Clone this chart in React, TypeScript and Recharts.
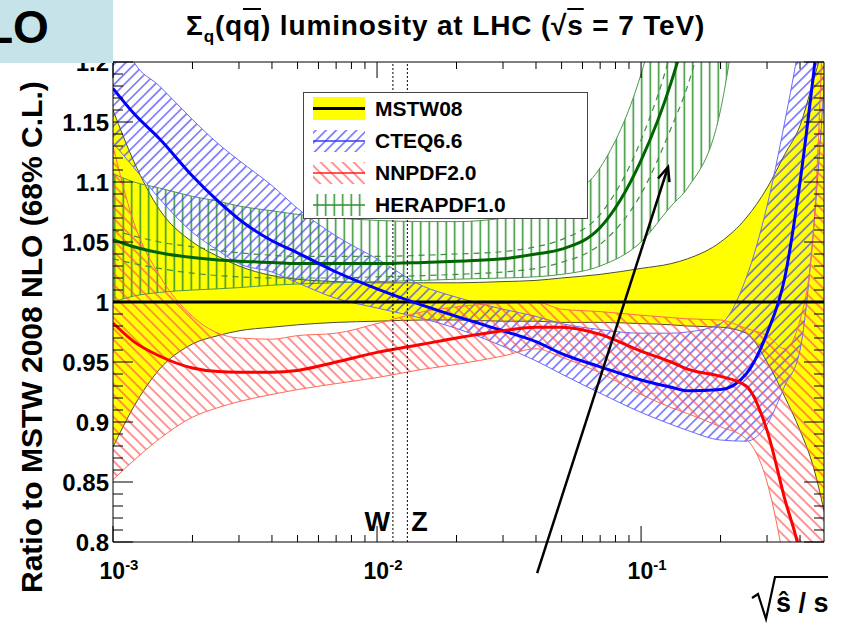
import React from "react";
import {
  ComposedChart,
  Area,
  Line,
  XAxis,
  YAxis,
  ReferenceLine,
  Legend,
} from "recharts";

const FONT = "'Liberation Sans', Arial, Helvetica, sans-serif";

// sqrt(s_hat / s) sample points
const xValues = [
  0.001, 0.0012, 0.0015, 0.002, 0.0025, 0.003, 0.004, 0.005, 0.007, 0.01,
  0.015, 0.02, 0.03, 0.04, 0.05, 0.07, 0.1, 0.13, 0.15, 0.2, 0.25, 0.3, 0.35,
  0.4, 0.45, 0.5,
];

// MSTW08 (reference, yellow band)
const mstwCentral = [
  1, 1, 1, 1, 1, 1, 1, 1, 1, 1, 1, 1, 1, 1, 1, 1, 1, 1, 1, 1, 1, 1, 1, 1, 1, 1,
];
const mstwHigh = [
  1.16, 1.117, 1.077, 1.05, 1.038, 1.03, 1.022, 1.019, 1.017, 1.016, 1.016,
  1.016, 1.017, 1.018, 1.02, 1.023, 1.028, 1.032, 1.036, 1.05, 1.07, 1.095,
  1.123, 1.147, 1.185, 1.22,
];
const mstwLow = [
  0.879, 0.913, 0.944, 0.965, 0.972, 0.976, 0.979, 0.981, 0.983, 0.984, 0.985,
  0.985, 0.984, 0.984, 0.983, 0.983, 0.982, 0.981, 0.98, 0.979, 0.974, 0.95,
  0.921, 0.893, 0.862, 0.82,
];

// CTEQ6.6
const cteqCentral = [
  1.178, 1.157, 1.136, 1.105, 1.084, 1.069, 1.051, 1.041, 1.025, 1.011, 0.997,
  0.988, 0.976, 0.967, 0.957, 0.946, 0.935, 0.929, 0.926, 0.927, 0.94, 0.974,
  1.02, 1.1, 1.19, 1.28,
];
const cteqHigh = [
  1.24, 1.2, 1.18, 1.152, 1.132, 1.118, 1.097, 1.078, 1.055, 1.036, 1.013,
  1.004, 0.994, 0.988, 0.982, 0.977, 0.974, 0.974, 0.975, 0.982, 1.02, 1.08,
  1.15, 1.22, 1.3, 1.38,
];
const cteqLow = [
  1.1325, 1.112, 1.086, 1.058, 1.043, 1.032, 1.025, 1.016, 1.003, 0.995, 0.986,
  0.978, 0.963, 0.951, 0.94, 0.924, 0.908, 0.898, 0.893, 0.885, 0.884, 0.898,
  0.93, 0.96, 1.06, 1.2,
];

// NNPDF2.0
const nnpdfCentral = [
  0.9825, 0.967, 0.955, 0.945, 0.942, 0.9415, 0.9415, 0.943, 0.95, 0.958,
  0.965, 0.97, 0.976, 0.979, 0.979, 0.973, 0.959, 0.95, 0.944, 0.938, 0.93,
  0.893, 0.836, 0.79, 0.72, 0.6,
];
const nnpdfHigh = [
  1.13, 1.066, 1.022, 0.988, 0.974, 0.97, 0.969, 0.972, 0.974, 0.982, 0.992,
  0.996, 0.999, 1.0, 0.994, 0.992, 0.989, 0.987, 0.986, 0.985, 0.978, 0.972,
  0.961, 0.985, 1.06, 1.3,
];
const nnpdfLow = [
  0.852, 0.868, 0.886, 0.904, 0.912, 0.917, 0.923, 0.927, 0.932, 0.937, 0.944,
  0.948, 0.955, 0.961, 0.954, 0.941, 0.923, 0.912, 0.907, 0.896, 0.886, 0.85,
  0.78, 0.7, 0.6, 0.5,
];

// HERAPDF1.0 (outer band, inner dashed band)
const heraCentral = [
  1.052, 1.046, 1.041, 1.037, 1.035, 1.034, 1.033, 1.032, 1.032, 1.032, 1.033,
  1.034, 1.036, 1.04, 1.044, 1.062, 1.118, 1.183, 1.23, 1.36, null, null, null,
  null, null, null,
];
const heraHigh = [
  1.107, 1.1, 1.095, 1.088, 1.084, 1.08, 1.076, 1.073, 1.07, 1.068, 1.067,
  1.067, 1.07, 1.076, 1.085, 1.112, 1.19, 1.29, 1.36, 1.5, 1.65, null, null,
  null, null, null,
];
const heraLow = [
  1.0, 1.005, 1.008, 1.01, 1.011, 1.012, 1.014, 1.015, 1.016, 1.017, 1.018,
  1.019, 1.02, 1.021, 1.023, 1.03, 1.05, 1.08, 1.095, 1.16, 1.3, null, null,
  null, null, null,
];
const heraInnerHigh = [
  1.06, 1.055, 1.05, 1.046, 1.043, 1.041, 1.039, 1.038, 1.038, 1.038, 1.039,
  1.04, 1.042, 1.046, 1.052, 1.073, 1.135, 1.21, 1.27, null, null, null, null,
  null, null, null,
];
const heraInnerLow = [
  1.036, 1.032, 1.028, 1.024, 1.022, 1.021, 1.02, 1.02, 1.02, 1.021, 1.022,
  1.023, 1.025, 1.028, 1.033, 1.048, 1.09, 1.145, 1.18, 1.29, null, null, null,
  null, null, null,
];

const seriesNames = ["MSTW08", "CTEQ6.6", "NNPDF2.0", "HERAPDF1.0"];

const xDomain = [0.001, 0.493];
const xTicks = [
  0.001, 0.002, 0.003, 0.004, 0.005, 0.006, 0.007, 0.008, 0.009, 0.01, 0.02,
  0.03, 0.04, 0.05, 0.06, 0.07, 0.08, 0.09, 0.1, 0.2, 0.3, 0.4,
];
const xMajorTicks = [0.001, 0.01, 0.1];
const xMajorExponents = ["-3", "-2", "-1"];

const yDomain = [0.8, 1.2];
const yTicks = [
  0.8, 0.81, 0.82, 0.83, 0.84, 0.85, 0.86, 0.87, 0.88, 0.89, 0.9, 0.91, 0.92,
  0.93, 0.94, 0.95, 0.96, 0.97, 0.98, 0.99, 1, 1.01, 1.02, 1.03, 1.04, 1.05,
  1.06, 1.07, 1.08, 1.09, 1.1, 1.11, 1.12, 1.13, 1.14, 1.15, 1.16, 1.17, 1.18,
  1.19, 1.2,
];
const yMajorTicks = [0.8, 0.85, 0.9, 0.95, 1, 1.05, 1.1, 1.15, 1.2];
const yMajorLabels = ["0.8", "0.85", "0.9", "0.95", "1", "1.05", "1.1", "1.15", "1.2"];

// W and Z masses over sqrt(s) = 7 TeV
const bosonLines = [
  { label: "W", x: 80.4 / 7000 },
  { label: "Z", x: 91.19 / 7000 },
];

const arrowStart = { x: 0.0404, y: 0.774 };
const arrowEnd = { x: 0.1265, y: 1.1125 };

const band = (lo: (number | null)[], hi: (number | null)[], i: number) =>
  lo[i] == null || hi[i] == null ? null : [lo[i], hi[i]];

const rows = xValues.map((x, i) => ({
  x,
  mstw: mstwCentral[i],
  mstwBand: band(mstwLow, mstwHigh, i),
  cteq: cteqCentral[i],
  cteqBand: band(cteqLow, cteqHigh, i),
  nnpdf: nnpdfCentral[i],
  nnpdfBand: band(nnpdfLow, nnpdfHigh, i),
  hera: heraCentral[i],
  heraBand: band(heraLow, heraHigh, i),
  heraInHi: heraInnerHigh[i],
  heraInLo: heraInnerLow[i],
}));

const XTick = ({ x, y, payload, top }: any) => {
  const idx = xMajorTicks.indexOf(payload.value);
  const len = idx >= 0 ? 16 : 7;
  return (
    <g>
      <line x1={x} y1={y} x2={x} y2={top ? y + len : y - len} stroke="#000" strokeWidth={1} />
      {!top && idx >= 0 && (
        <text
          x={x + 6}
          y={y + 37}
          textAnchor="middle"
          fontSize={23}
          fontWeight="bold"
          fontFamily={FONT}
          fill="#000"
        >
          10
          <tspan dy={-9} fontSize={15}>
            {xMajorExponents[idx]}
          </tspan>
        </text>
      )}
    </g>
  );
};

const YTick = ({ x, y, payload, right }: any) => {
  const idx = yMajorTicks.indexOf(payload.value);
  const len = idx >= 0 ? 20 : 10;
  return (
    <g>
      <line x1={x} y1={y} x2={right ? x - len : x + len} y2={y} stroke="#000" strokeWidth={1} />
      {!right && idx >= 0 && (
        <text
          x={x - 4}
          y={y}
          dy="0.36em"
          textAnchor="end"
          fontSize={24}
          fontWeight="bold"
          fontFamily={FONT}
          fill="#000"
        >
          {yMajorLabels[idx]}
        </text>
      )}
    </g>
  );
};

const legendSymbol = (i: number) => {
  if (i === 0)
    return (
      <>
        <rect x={0} y={1} width={52} height={23} fill="#ffff00" />
        <line x1={0} x2={52} y1={12.5} y2={12.5} stroke="#000" strokeWidth={3} />
      </>
    );
  const fills = ["", "url(#hatchBlue)", "url(#hatchRed)", "url(#hatchGreen)"];
  const lines = ["", "#3a3aff", "#ff2020", "#2f8f2f"];
  return (
    <>
      <rect x={0} y={2} width={52} height={22} fill={fills[i]} />
      <line x1={0} x2={52} y1={13} y2={13} stroke={lines[i]} strokeWidth={1.5} />
    </>
  );
};

const LegendBox = () => (
  <div style={{ fontFamily: FONT, fontWeight: "bold", fontSize: 21, color: "#000" }}>
    {seriesNames.map((name, i) => (
      <div key={name} style={{ display: "flex", alignItems: "center", height: 32 }}>
        <svg width={52} height={26} style={{ marginLeft: 9, flex: "none" }}>
          {legendSymbol(i)}
        </svg>
        <span style={{ marginLeft: 10 }}>{name}</span>
      </div>
    ))}
  </div>
);

const BosonLabel = (text: string, side: "left" | "right") => (props: any) => {
  const vb = props.viewBox || {};
  return (
    <text
      x={side === "left" ? vb.x - 3 : vb.x + 4}
      y={vb.y + vb.height - 11}
      textAnchor={side === "left" ? "end" : "start"}
      fontSize={27}
      fontWeight="bold"
      fontFamily={FONT}
      fill="#000"
    >
      {text}
    </text>
  );
};

const Arrow = (p: any) => (
  <line
    x1={p.x1}
    y1={p.y1}
    x2={p.x2}
    y2={p.y2}
    stroke="#000"
    strokeWidth={2.5}
    markerEnd="url(#arrowHead)"
  />
);

export default function App() {
  const axisStroke = { stroke: "#000", strokeWidth: 1 };
  return (
    <div
      style={{
        position: "absolute",
        left: 0,
        top: 0,
        width: 846,
        height: 627,
        background: "#fff",
        fontFamily: FONT,
        overflow: "hidden",
      }}
    >
      <ComposedChart
        width={846}
        height={627}
        data={rows}
        margin={{ top: 60, right: 20, bottom: 45, left: 53 }}
      >
        <defs>
          <pattern id="hatchBlue" patternUnits="userSpaceOnUse" width={7.2} height={7.2} patternTransform="rotate(45)">
            <line x1={3.6} y1={0} x2={3.6} y2={7.2} stroke="#4444ff" strokeWidth={1.2} />
          </pattern>
          <pattern id="hatchRed" patternUnits="userSpaceOnUse" width={7.8} height={7.8} patternTransform="rotate(-45)">
            <line x1={3.9} y1={0} x2={3.9} y2={7.8} stroke="#ff4f4f" strokeWidth={1.2} />
          </pattern>
          <pattern id="hatchGreen" patternUnits="userSpaceOnUse" width={8.5} height={10}>
            <line x1={4.25} y1={0} x2={4.25} y2={10} stroke="#2f8f2f" strokeWidth={1.5} />
          </pattern>
          <marker
            id="arrowHead"
            markerUnits="userSpaceOnUse"
            markerWidth={20}
            markerHeight={20}
            refX={15}
            refY={7}
            orient="auto"
          >
            <path d="M1,1 L15,7 L1,13" fill="none" stroke="#000" strokeWidth={2.5} />
          </marker>
        </defs>

        <XAxis
          xAxisId="b"
          dataKey="x"
          type="number"
          scale="log"
          domain={xDomain}
          allowDataOverflow
          ticks={xTicks}
          interval={0}
          tickLine={false}
          tickSize={0}
          tickMargin={0}
          height={40}
          axisLine={axisStroke}
          tick={(p: any) => <XTick {...p} />}
        />
        <XAxis
          xAxisId="t"
          orientation="top"
          dataKey="x"
          type="number"
          scale="log"
          domain={xDomain}
          allowDataOverflow
          ticks={xTicks}
          interval={0}
          tickLine={false}
          tickSize={0}
          tickMargin={0}
          height={2}
          axisLine={axisStroke}
          tick={(p: any) => <XTick {...p} top />}
        />
        <YAxis
          yAxisId="l"
          type="number"
          domain={yDomain}
          allowDataOverflow
          ticks={yTicks}
          interval={0}
          tickLine={false}
          tickSize={0}
          tickMargin={0}
          width={60}
          axisLine={axisStroke}
          tick={(p: any) => <YTick {...p} />}
        />
        <YAxis
          yAxisId="r"
          orientation="right"
          type="number"
          domain={yDomain}
          allowDataOverflow
          ticks={yTicks}
          interval={0}
          tickLine={false}
          tickSize={0}
          tickMargin={0}
          width={2}
          axisLine={axisStroke}
          tick={(p: any) => <YTick {...p} right />}
        />

        <Area
          xAxisId="b"
          yAxisId="l"
          type="monotone"
          dataKey="mstwBand"
          fill="#ffff00"
          fillOpacity={1}
          stroke="#4d4d33"
          strokeWidth={1}
          isAnimationActive={false}
        />
        <Area
          xAxisId="b"
          yAxisId="l"
          type="monotone"
          dataKey="heraBand"
          fill="url(#hatchGreen)"
          fillOpacity={1}
          stroke="#4a9a4a"
          strokeWidth={1}
          isAnimationActive={false}
        />
        <Area
          xAxisId="b"
          yAxisId="l"
          type="monotone"
          dataKey="cteqBand"
          fill="url(#hatchBlue)"
          fillOpacity={1}
          stroke="#6a6aff"
          strokeWidth={1}
          isAnimationActive={false}
        />
        <Area
          xAxisId="b"
          yAxisId="l"
          type="monotone"
          dataKey="nnpdfBand"
          fill="url(#hatchRed)"
          fillOpacity={1}
          stroke="#ff6a55"
          strokeWidth={1}
          isAnimationActive={false}
        />

        <Line xAxisId="b" yAxisId="l" type="monotone" dataKey="mstw" stroke="#000" strokeWidth={3} dot={false} isAnimationActive={false} />
        <Line xAxisId="b" yAxisId="l" type="monotone" dataKey="heraInHi" stroke="#3f8f3f" strokeWidth={1.2} strokeDasharray="6 5" dot={false} isAnimationActive={false} />
        <Line xAxisId="b" yAxisId="l" type="monotone" dataKey="heraInLo" stroke="#3f8f3f" strokeWidth={1.2} strokeDasharray="6 5" dot={false} isAnimationActive={false} />
        <Line xAxisId="b" yAxisId="l" type="monotone" dataKey="hera" stroke="#006400" strokeWidth={3} dot={false} isAnimationActive={false} />
        <Line xAxisId="b" yAxisId="l" type="monotone" dataKey="cteq" stroke="#0000ff" strokeWidth={3} dot={false} isAnimationActive={false} />
        <Line xAxisId="b" yAxisId="l" type="monotone" dataKey="nnpdf" stroke="#ff0000" strokeWidth={3} dot={false} isAnimationActive={false} />

        {bosonLines.map((b, i) => (
          <ReferenceLine
            key={b.label}
            xAxisId="b"
            yAxisId="l"
            x={b.x}
            stroke="#000"
            strokeWidth={1}
            strokeDasharray="2 2"
            label={BosonLabel(b.label, i === 0 ? "left" : "right")}
          />
        ))}
        <ReferenceLine
          xAxisId="b"
          yAxisId="l"
          segment={[arrowStart, arrowEnd]}
          ifOverflow="visible"
          shape={Arrow}
        />

        <Legend
          layout="vertical"
          align="center"
          verticalAlign="middle"
          content={() => <LegendBox />}
          wrapperStyle={{
            left: 303,
            top: 92,
            width: 285,
            height: 127,
            border: "1px solid #444",
            background: "#fff",
            boxSizing: "border-box",
          }}
        />
      </ComposedChart>

      <div
        style={{
          position: "absolute",
          left: 186,
          top: 9,
          fontSize: 28,
          letterSpacing: 0.85,
          fontWeight: "bold",
          whiteSpace: "nowrap",
          lineHeight: "34px",
          color: "#000",
        }}
      >
        Σ<span style={{ fontSize: 17, position: "relative", top: 7 }}>q</span>(q
        <span style={{ textDecoration: "overline" }}>q</span>) luminosity at LHC (√
        <span style={{ textDecoration: "overline" }}>s</span> = 7 TeV)
      </div>

      <svg
        width={846}
        height={627}
        style={{ position: "absolute", left: 0, top: 0, pointerEvents: "none" }}
      >
        <text
          transform="translate(42, 593) rotate(-90)"
          fontSize={30}
          fontWeight="bold"
          fontFamily={FONT}
          fill="#000"
        >
          Ratio to MSTW 2008 NLO (68% C.L.)
        </text>
        <path
          d="M752,598 L758,594 L766,619 L775,577 L828,577"
          fill="none"
          stroke="#000"
          strokeWidth={2.2}
        />
        <text x={776} y={612} fontSize={27} fontWeight="bold" fontFamily={FONT} fill="#000">
          ŝ / s
        </text>
      </svg>

      <div
        style={{
          position: "absolute",
          left: 0,
          top: 0,
          width: 113,
          height: 63,
          background: "#c5e3e9",
          overflow: "hidden",
        }}
      >
        <div
          style={{
            position: "absolute",
            left: -15,
            top: 0,
            fontSize: 46,
            fontWeight: "bold",
            lineHeight: "54px",
            color: "#000",
          }}
        >
          LO
        </div>
      </div>
    </div>
  );
}
